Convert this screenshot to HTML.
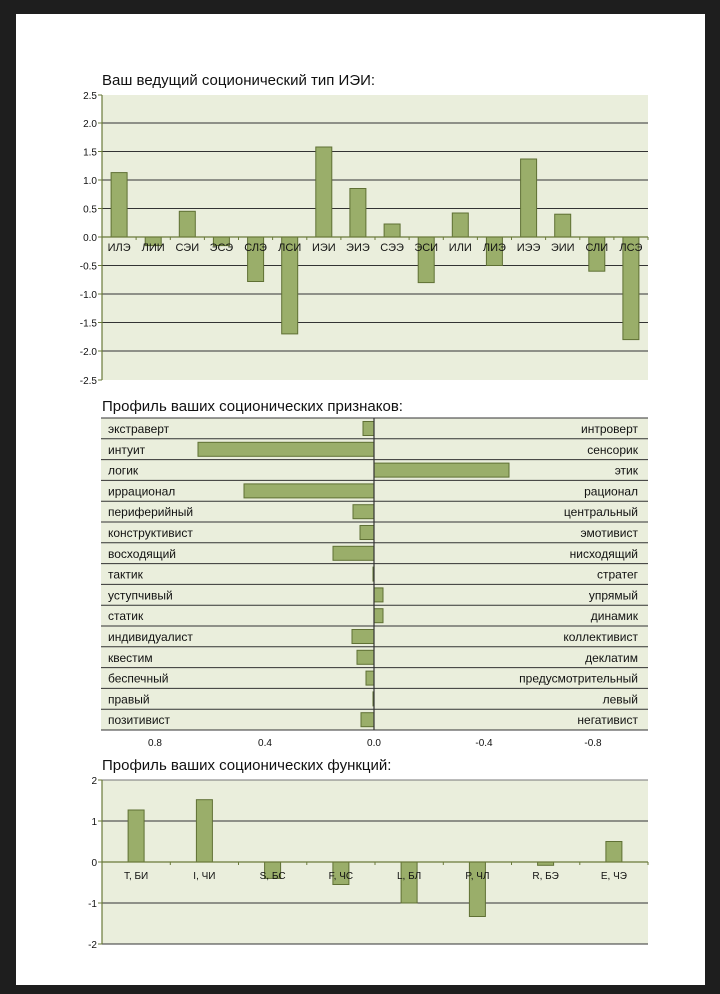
<!DOCTYPE html>
<html><head><meta charset="utf-8"><style>
html,body{margin:0;padding:0;background:#1e1e1e;}
svg{display:block}
text{font-family:"Liberation Sans",Arial,sans-serif;fill:#111}
</style></head><body>
<svg width="720" height="994" viewBox="0 0 720 994" xmlns="http://www.w3.org/2000/svg">
<rect x="0" y="0" width="720" height="994" fill="#1e1e1e"/>
<rect x="16" y="14" width="689" height="971" fill="#ffffff"/>

<!-- Chart 1 -->
<text x="102" y="85" font-size="15">Ваш ведущий соционический тип ИЭИ:</text>
<rect x="102" y="95" width="546" height="285" fill="#eaeedc"/>
<g stroke="#333" stroke-width="1">
<line x1="102" y1="123" x2="648" y2="123"/><line x1="102" y1="151.5" x2="648" y2="151.5"/>
<line x1="102" y1="180" x2="648" y2="180"/><line x1="102" y1="208.5" x2="648" y2="208.5"/>
<line x1="102" y1="265.5" x2="648" y2="265.5"/><line x1="102" y1="294" x2="648" y2="294"/>
<line x1="102" y1="322.5" x2="648" y2="322.5"/><line x1="102" y1="351" x2="648" y2="351"/>
</g>
<g fill="#9aae6a" stroke="#5f7034" stroke-width="1">
<rect x="111.1" y="172.6" width="16" height="64.4"/>
<rect x="145.2" y="237" width="16" height="8.6"/>
<rect x="179.3" y="211.3" width="16" height="25.7"/>
<rect x="213.4" y="237" width="16" height="8.6"/>
<rect x="247.6" y="237" width="16" height="44.5"/>
<rect x="281.7" y="237" width="16" height="96.9"/>
<rect x="315.8" y="147" width="16" height="90"/>
<rect x="349.9" y="188.5" width="16" height="48.5"/>
<rect x="384.1" y="224" width="16" height="13"/>
<rect x="418.2" y="237" width="16" height="45.6"/>
<rect x="452.3" y="213" width="16" height="24"/>
<rect x="486.4" y="237" width="16" height="28.5"/>
<rect x="520.6" y="159" width="16" height="78"/>
<rect x="554.7" y="214.2" width="16" height="22.8"/>
<rect x="588.8" y="237" width="16" height="34.2"/>
<rect x="622.9" y="237" width="16" height="102.6"/>
</g>
<line x1="102" y1="237" x2="648" y2="237" stroke="#6a7a3a" stroke-width="1.2"/>
<g stroke="#6a7a3a" stroke-width="1">
<line x1="136.1" y1="237" x2="136.1" y2="240"/><line x1="170.3" y1="237" x2="170.3" y2="240"/><line x1="204.4" y1="237" x2="204.4" y2="240"/><line x1="238.5" y1="237" x2="238.5" y2="240"/>
<line x1="272.6" y1="237" x2="272.6" y2="240"/><line x1="306.8" y1="237" x2="306.8" y2="240"/><line x1="340.9" y1="237" x2="340.9" y2="240"/><line x1="375" y1="237" x2="375" y2="240"/>
<line x1="409.1" y1="237" x2="409.1" y2="240"/><line x1="443.3" y1="237" x2="443.3" y2="240"/><line x1="477.4" y1="237" x2="477.4" y2="240"/><line x1="511.5" y1="237" x2="511.5" y2="240"/>
<line x1="545.6" y1="237" x2="545.6" y2="240"/><line x1="579.8" y1="237" x2="579.8" y2="240"/><line x1="613.9" y1="237" x2="613.9" y2="240"/><line x1="648" y1="237" x2="648" y2="240"/>
<line x1="98" y1="95" x2="102" y2="95"/><line x1="98" y1="123" x2="102" y2="123"/><line x1="98" y1="151.5" x2="102" y2="151.5"/><line x1="98" y1="180" x2="102" y2="180"/><line x1="98" y1="208.5" x2="102" y2="208.5"/><line x1="98" y1="237" x2="102" y2="237"/><line x1="98" y1="265.5" x2="102" y2="265.5"/><line x1="98" y1="294" x2="102" y2="294"/><line x1="98" y1="322.5" x2="102" y2="322.5"/><line x1="98" y1="351" x2="102" y2="351"/><line x1="98" y1="380" x2="102" y2="380"/>
</g>
<line x1="102" y1="95" x2="102" y2="380" stroke="#6a7a3a" stroke-width="1.2"/>
<g font-size="11" text-anchor="middle">
<text x="119.1" y="251">ИЛЭ</text><text x="153.2" y="251">ЛИИ</text><text x="187.3" y="251">СЭИ</text><text x="221.4" y="251">ЭСЭ</text>
<text x="255.6" y="251">СЛЭ</text><text x="289.7" y="251">ЛСИ</text><text x="323.8" y="251">ИЭИ</text><text x="357.9" y="251">ЭИЭ</text>
<text x="392.1" y="251">СЭЭ</text><text x="426.2" y="251">ЭСИ</text><text x="460.3" y="251">ИЛИ</text><text x="494.4" y="251">ЛИЭ</text>
<text x="528.6" y="251">ИЭЭ</text><text x="562.7" y="251">ЭИИ</text><text x="596.8" y="251">СЛИ</text><text x="630.9" y="251">ЛСЭ</text>
</g>
<g font-size="10" text-anchor="end">
<text x="97" y="99">2.5</text><text x="97" y="127">2.0</text><text x="97" y="155.5">1.5</text><text x="97" y="184">1.0</text>
<text x="97" y="212.5">0.5</text><text x="97" y="241">0.0</text><text x="97" y="269.5">-0.5</text><text x="97" y="298">-1.0</text>
<text x="97" y="326.5">-1.5</text><text x="97" y="355">-2.0</text><text x="97" y="384">-2.5</text>
</g>

<!-- Chart 2 -->
<text x="102" y="411" font-size="15">Профиль ваших соционических признаков:</text>
<rect x="101" y="418" width="547" height="312" fill="#eaeedc"/>
<g stroke="#333" stroke-width="1">
<line x1="101" y1="418" x2="648" y2="418"/><line x1="101" y1="438.8" x2="648" y2="438.8"/>
<line x1="101" y1="459.6" x2="648" y2="459.6"/><line x1="101" y1="480.4" x2="648" y2="480.4"/>
<line x1="101" y1="501.2" x2="648" y2="501.2"/><line x1="101" y1="522" x2="648" y2="522"/>
<line x1="101" y1="542.8" x2="648" y2="542.8"/><line x1="101" y1="563.6" x2="648" y2="563.6"/>
<line x1="101" y1="584.4" x2="648" y2="584.4"/><line x1="101" y1="605.2" x2="648" y2="605.2"/>
<line x1="101" y1="626" x2="648" y2="626"/><line x1="101" y1="646.8" x2="648" y2="646.8"/>
<line x1="101" y1="667.6" x2="648" y2="667.6"/><line x1="101" y1="688.4" x2="648" y2="688.4"/>
<line x1="101" y1="709.2" x2="648" y2="709.2"/><line x1="101" y1="730" x2="648" y2="730"/>
</g>
<g fill="#9aae6a" stroke="#5f7034" stroke-width="1">
<rect x="363" y="421.5" width="11" height="14"/>
<rect x="198" y="442.3" width="176" height="14"/>
<rect x="374" y="463.1" width="135" height="14"/>
<rect x="244" y="483.9" width="130" height="14"/>
<rect x="353" y="504.7" width="21" height="14"/>
<rect x="360" y="525.5" width="14" height="14"/>
<rect x="333" y="546.3" width="41" height="14"/>
<rect x="373" y="567.1" width="1" height="14"/>
<rect x="374" y="587.9" width="9" height="14"/>
<rect x="374" y="608.7" width="9" height="14"/>
<rect x="352" y="629.5" width="22" height="14"/>
<rect x="357" y="650.3" width="17" height="14"/>
<rect x="366" y="671.1" width="8" height="14"/>
<rect x="373" y="691.9" width="1" height="14"/>
<rect x="361" y="712.7" width="13" height="14"/>
</g>
<line x1="374" y1="418" x2="374" y2="730" stroke="#333" stroke-width="1.2"/>
<g font-size="12">
<text x="108" y="433">экстраверт</text><text x="108" y="453.8">интуит</text><text x="108" y="474.6">логик</text>
<text x="108" y="495.4">иррационал</text><text x="108" y="516.2">периферийный</text><text x="108" y="537">конструктивист</text>
<text x="108" y="557.8">восходящий</text><text x="108" y="578.6">тактик</text><text x="108" y="599.4">уступчивый</text>
<text x="108" y="620.2">статик</text><text x="108" y="641">индивидуалист</text><text x="108" y="661.8">квестим</text>
<text x="108" y="682.6">беспечный</text><text x="108" y="703.4">правый</text><text x="108" y="724.2">позитивист</text>
</g>
<g font-size="12" text-anchor="end">
<text x="638" y="433">интроверт</text><text x="638" y="453.8">сенсорик</text><text x="638" y="474.6">этик</text>
<text x="638" y="495.4">рационал</text><text x="638" y="516.2">центральный</text><text x="638" y="537">эмотивист</text>
<text x="638" y="557.8">нисходящий</text><text x="638" y="578.6">стратег</text><text x="638" y="599.4">упрямый</text>
<text x="638" y="620.2">динамик</text><text x="638" y="641">коллективист</text><text x="638" y="661.8">деклатим</text>
<text x="638" y="682.6">предусмотрительный</text><text x="638" y="703.4">левый</text><text x="638" y="724.2">негативист</text>
</g>
<g font-size="10" text-anchor="middle">
<text x="155" y="746">0.8</text><text x="265" y="746">0.4</text><text x="374" y="746">0.0</text>
<text x="484" y="746">-0.4</text><text x="593" y="746">-0.8</text>
</g>

<!-- Chart 3 -->
<text x="102" y="770" font-size="15">Профиль ваших соционических функций:</text>
<rect x="102" y="780" width="546" height="164" fill="#eaeedc"/>
<line x1="102" y1="780" x2="648" y2="780" stroke="#777" stroke-width="1"/>
<line x1="102" y1="821" x2="648" y2="821" stroke="#333" stroke-width="1"/>
<line x1="102" y1="903" x2="648" y2="903" stroke="#333" stroke-width="1"/>
<line x1="102" y1="944" x2="648" y2="944" stroke="#333" stroke-width="1"/>
<g fill="#9aae6a" stroke="#5f7034" stroke-width="1">
<rect x="128.1" y="810" width="16" height="52"/>
<rect x="196.4" y="799.7" width="16" height="62.3"/>
<rect x="264.6" y="862" width="16" height="16.4"/>
<rect x="332.9" y="862" width="16" height="22.5"/>
<rect x="401.1" y="862" width="16" height="41"/>
<rect x="469.4" y="862" width="16" height="54.5"/>
<rect x="537.6" y="862" width="16" height="3.3"/>
<rect x="605.9" y="841.5" width="16" height="20.5"/>
</g>
<line x1="102" y1="862" x2="648" y2="862" stroke="#6a7a3a" stroke-width="1.2"/>
<g stroke="#6a7a3a" stroke-width="1">
<line x1="170.3" y1="862" x2="170.3" y2="865"/><line x1="238.5" y1="862" x2="238.5" y2="865"/><line x1="306.8" y1="862" x2="306.8" y2="865"/><line x1="375" y1="862" x2="375" y2="865"/>
<line x1="443.3" y1="862" x2="443.3" y2="865"/><line x1="511.5" y1="862" x2="511.5" y2="865"/><line x1="579.8" y1="862" x2="579.8" y2="865"/><line x1="648" y1="862" x2="648" y2="865"/>
<line x1="98" y1="780" x2="102" y2="780"/><line x1="98" y1="821" x2="102" y2="821"/><line x1="98" y1="862" x2="102" y2="862"/><line x1="98" y1="903" x2="102" y2="903"/><line x1="98" y1="944" x2="102" y2="944"/>
</g>
<line x1="102" y1="780" x2="102" y2="944" stroke="#6a7a3a" stroke-width="1.2"/>
<g font-size="10" text-anchor="middle">
<text x="136.1" y="879">T, БИ</text><text x="204.4" y="879">I, ЧИ</text><text x="272.6" y="879">S, БС</text><text x="340.9" y="879">F, ЧС</text>
<text x="409.1" y="879">L, БЛ</text><text x="477.4" y="879">P, ЧЛ</text><text x="545.6" y="879">R, БЭ</text><text x="613.9" y="879">E, ЧЭ</text>
</g>
<g font-size="10" text-anchor="end">
<text x="97" y="784">2</text><text x="97" y="825">1</text><text x="97" y="866">0</text><text x="97" y="907">-1</text><text x="97" y="948">-2</text>
</g>
</svg>
</body></html>
